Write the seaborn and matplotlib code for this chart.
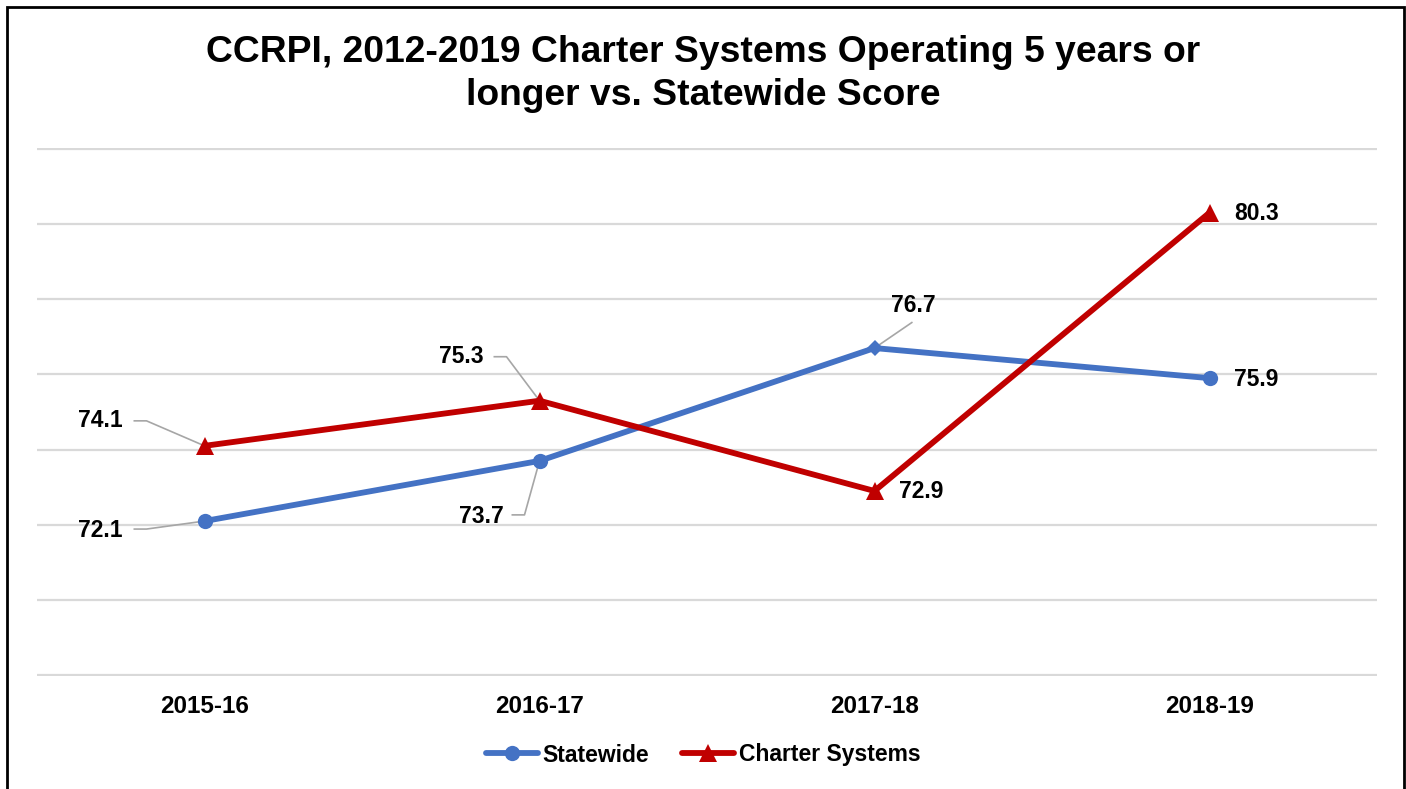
import pandas as pd
import matplotlib.pyplot as plt
import matplotlib.patches as patches
import seaborn as sns

years = ['2015-16', '2016-17', '2017-18', '2018-19']
statewide = [72.1, 73.7, 76.7, 75.9]
charter = [74.1, 75.3, 72.9, 80.3]
series_names = ['Statewide', 'Charter Systems']

BLUE = '#4472C4'
RED = '#C00000'
DPI = 100


def build_frame():
    rows = []
    for name, values in zip(series_names, [statewide, charter]):
        for year, v in zip(years, values):
            rows.append({'year': year, 'score': v, 'series': name})
    return pd.DataFrame(rows)


def leader(ax, x, y, offsets):
    # offsets are image pixels relative to the point (y grows downward)
    base = ax.transData.transform((x, y))
    inv = ax.transData.inverted()
    pts = [inv.transform((base[0] + dx, base[1] - dy)) for dx, dy in offsets]
    ax.plot([p[0] for p in pts], [p[1] for p in pts], color='#a6a6a6',
            linewidth=1.2, zorder=2, solid_capstyle='butt')


def label(ax, x, y, text, dx, dy):
    ax.annotate(text, (x, y), xytext=(dx, -dy), textcoords='offset pixels',
                ha='center', va='center', fontsize=16.5, fontweight='bold',
                color='black', zorder=5)


sns.set_theme(style='white')
plt.rcParams['font.family'] = ['Liberation Sans', 'DejaVu Sans']
plt.rcParams['text.color'] = 'black'
plt.rcParams['xtick.color'] = 'black'

fig = plt.figure(figsize=(14.06, 7.89), dpi=DPI)
ax = fig.add_axes([37 / 1406, 1 - 676 / 789, (1377 - 37) / 1406, (676 - 148) / 789])

df = build_frame()
sns.lineplot(data=df, x='year', y='score', hue='series', style='series',
             palette=[BLUE, RED], markers=['o', '^'], dashes=False,
             linewidth=4.2, markersize=11, markeredgewidth=0, sort=False,
             ax=ax, zorder=3)

# Statewide 2017-18 point is drawn as a diamond
ax.lines[0].set_markevery([0, 1, 3])
ax.lines[1].set_markersize(13)
ax.plot([2], [statewide[2]], marker='D', markersize=8, color=BLUE,
        markeredgewidth=0, linestyle='none', zorder=4)

ax.set_xlim(-0.5, 3.5)
ax.set_ylim(67.98, 82.02)
ax.set_yticks(range(68, 83, 2))
ax.set_yticklabels([])
ax.yaxis.grid(True, color='#d9d9d9', linewidth=1.6)
ax.xaxis.grid(False)
ax.set_axisbelow(True)
for s in ax.spines.values():
    s.set_visible(False)
ax.tick_params(axis='x', length=0, pad=14, labelsize=17.5, labelcolor='black')
ax.tick_params(axis='y', length=0)
for t in ax.get_xticklabels():
    t.set_fontweight('bold')
ax.set_xlabel('')
ax.set_ylabel('')

handles, labels = ax.get_legend_handles_labels()
ax.get_legend().remove()
handles[1].set_markersize(13)
fig.legend(handles, labels, loc='center', bbox_to_anchor=(0.5, 1 - 755 / 789),
           ncol=2, frameon=False, prop={'size': 16.5, 'weight': 'bold'},
           handlelength=2.3, handletextpad=0.2, columnspacing=1.4)

# data labels and leader lines
label(ax, 0, charter[0], '74.1', -104, -25)
leader(ax, 0, charter[0], [(-71, -25), (-58, -25), (0, 0)])
label(ax, 0, statewide[0], '72.1', -104, 9)
leader(ax, 0, statewide[0], [(-71, 8), (-58, 8), (0, 0)])
label(ax, 1, charter[1], '75.3', -78, -44)
leader(ax, 1, charter[1], [(-46, -44), (-33, -44), (0, 0)])
label(ax, 1, statewide[1], '73.7', -58, 56)
leader(ax, 1, statewide[1], [(-28, 54), (-15, 54), (0, 0)])
label(ax, 2, statewide[2], '76.7', 39, -43)
leader(ax, 2, statewide[2], [(38, -26), (0, 0)])
label(ax, 2, charter[2], '72.9', 47, 1)
label(ax, 3, charter[3], '80.3', 47, 1)
label(ax, 3, statewide[3], '75.9', 47, 1)

fig.text(0.5, 1 - 74 / 789,
         'CCRPI, 2012-2019 Charter Systems Operating 5 years or\nlonger vs. Statewide Score',
         ha='center', va='center', fontsize=26.8, fontweight='bold', linespacing=1.3)

fig.patches.append(patches.Rectangle((7 / 1406, -0.05), (1404 - 7) / 1406, 1.05 - 7 / 789,
                                     transform=fig.transFigure, fill=False,
                                     edgecolor='black', linewidth=2, zorder=10))

plt.savefig('out.png', dpi=DPI)
